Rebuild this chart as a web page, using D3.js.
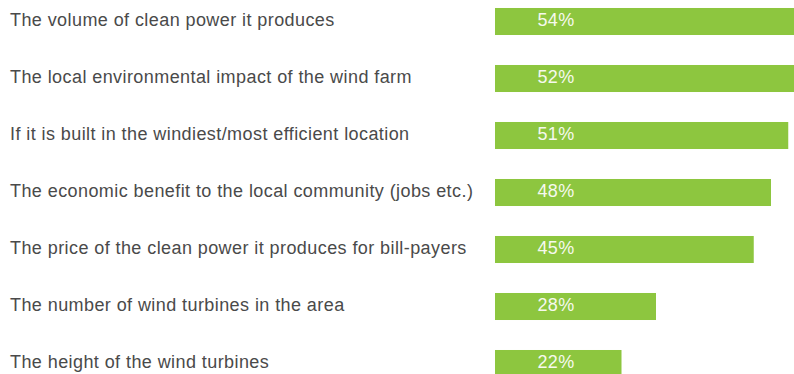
<!DOCTYPE html>
<html>
<head>
<meta charset="utf-8">
<script src="https://cdn.jsdelivr.net/npm/d3@7"></script>
<style>
  html, body { margin: 0; padding: 0; background: #fff; overflow: hidden; }
  svg { display: block; }
</style>
</head>
<body>
<svg id="chart" width="794" height="374"></svg>
<script>
// Factors people weigh when judging a wind farm proposal
const factors = [
  "The volume of clean power it produces",
  "The local environmental impact of the wind farm",
  "If it is built in the windiest/most efficient location",
  "The economic benefit to the local community (jobs etc.)",
  "The price of the clean power it produces for bill-payers",
  "The number of wind turbines in the area",
  "The height of the wind turbines"
];
const shares = [54, 52, 51, 48, 45, 28, 22];
const shareLabels = ["54%", "52%", "51%", "48%", "45%", "28%", "22%"];

const svg = d3.select("#chart");
const barLeft = 495;

const x = d3.scaleLinear().domain([0, 100]).range([barLeft, barLeft + 575]);
const y = d3.scaleBand()
  .domain(factors)
  .range([-7, 392])
  .paddingInner(0.526)
  .paddingOuter(0.263);

const rows = svg.selectAll("g.row")
  .data(factors)
  .join("g")
  .attr("class", "row");

rows.append("rect")
  .attr("x", x(0))
  .attr("y", d => y(d))
  .attr("width", (d, i) => x(shares[i]) - x(0))
  .attr("height", y.bandwidth())
  .attr("fill", "#8dc63f");

rows.append("text")
  .attr("x", 10)
  .attr("y", d => y(d) + y.bandwidth() / 2)
  .attr("dy", "0.27em")
  .attr("fill", "#4a4a4a")
  .style("font-family", "'Liberation Sans', Arial, sans-serif")
  .style("font-size", "18px")
  .style("letter-spacing", "0.42px")
  .text(d => d);

rows.append("text")
  .attr("x", x(0) + 61)
  .attr("y", d => y(d) + y.bandwidth() / 2)
  .attr("dy", "0.27em")
  .attr("text-anchor", "middle")
  .attr("fill", "#f6f9ee")
  .style("font-family", "'Liberation Sans', Arial, sans-serif")
  .style("font-size", "18px")
  .style("letter-spacing", "0.4px")
  .text((d, i) => shareLabels[i]);
</script>
</body>
</html>
